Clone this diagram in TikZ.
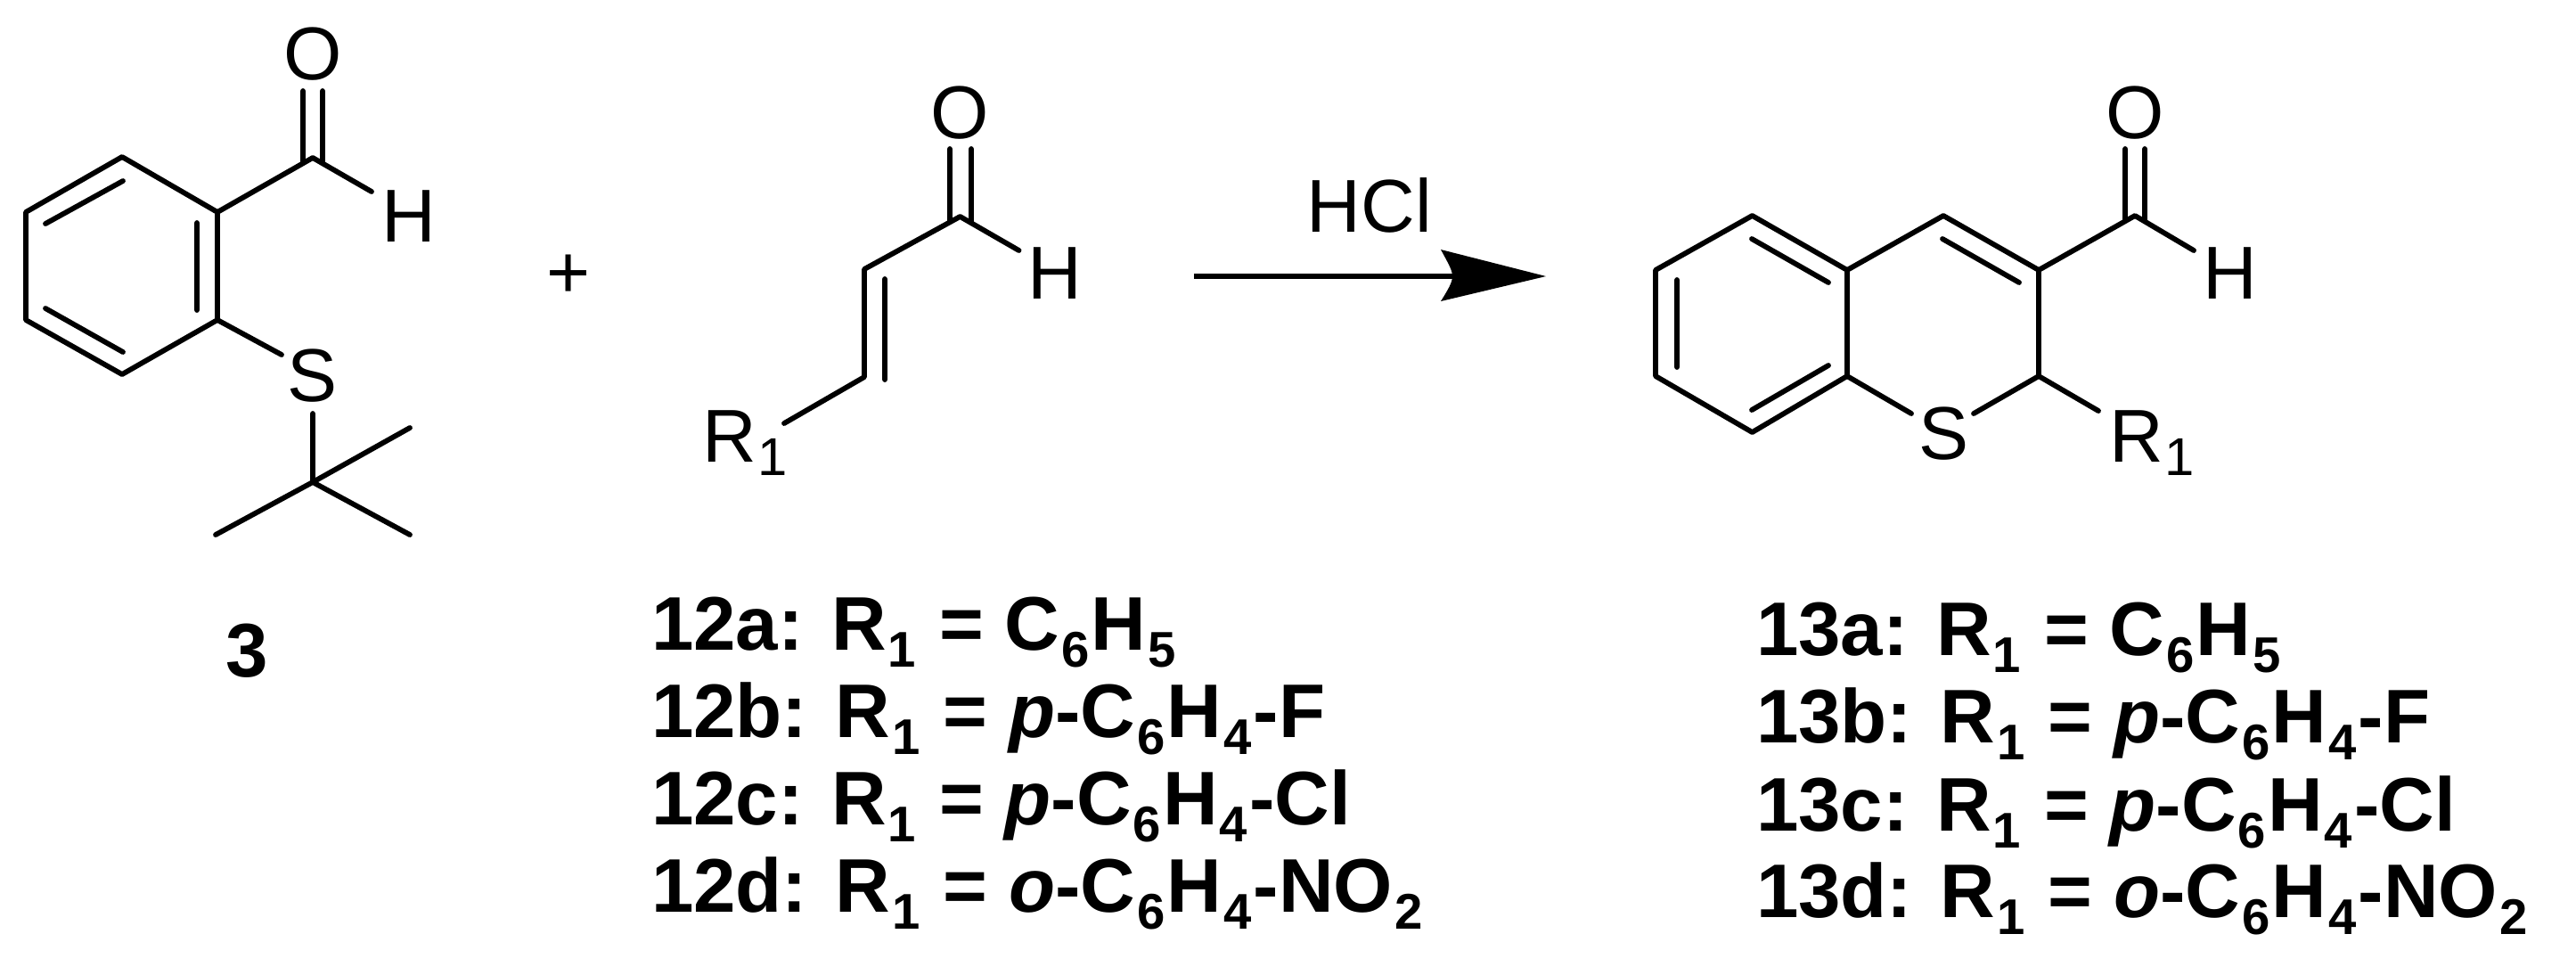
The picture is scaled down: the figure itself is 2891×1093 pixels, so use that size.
\documentclass[tikz,border=0pt]{standalone}
\usepackage{fontspec}
\setmainfont{Liberation Sans}
\newcommand\atomfont{\fontsize{23.9pt}{26pt}\selectfont}
\newcommand\labfont{\fontsize{24.25pt}{26pt}\selectfont\bfseries}
\newcommand\subfont{\fontsize{16pt}{18pt}\selectfont}
\newcommand\sbs[1]{\hspace{0.6pt}\raisebox{-5.4pt}{\subfont #1}\hspace{0.6pt}}
\newcommand\asb[1]{\hspace{0.6pt}\raisebox{-4.3pt}{\fontsize{17pt}{19pt}\selectfont #1}}
\tikzset{
  x=0.01cm,y=-0.01cm,
  bond/.style={line width=1.65pt,line cap=round,line join=round,black},
  atom/.style={inner sep=0pt,outer sep=0pt,font=\atomfont,text=black},
  lab/.style={inner sep=0pt,outer sep=0pt,anchor=base west,font=\labfont,text=black},
}
\begin{document}
\begin{tikzpicture}
\useasboundingbox (0,0) rectangle (2891,1093);
% ---------- compound 3
\foreach \n/\p in {a1/{137,176},a2/{244,238},a3/{244,359},a4/{137,420},a5/{29,359},a6/{29,238},
  a7/{351,177},a8/{340,102},a9/{340,182},a10/{362,102},a11/{362,182},a12/{417,215},
  a13/{316,398},a14/{351,464},a15/{351,541},a16/{460,480},a17/{460,600},a18/{242,600},
  a19/{221,250},a20/{221,348},a21/{138,203},a22/{51,251},a23/{51,346},a24/{138,395}}
  \coordinate (\n) at (\p);
\draw[bond] (a1)--(a2)--(a3)--(a4)--(a5)--(a6)--cycle;
\draw[bond] (a19)--(a20) (a21)--(a22) (a23)--(a24);
\draw[bond] (a2)--(a7)--(a12) (a8)--(a9) (a10)--(a11);
\draw[bond] (a3)--(a13) (a14)--(a15) (a15)--(a16) (a15)--(a17) (a15)--(a18);
\node[atom] (o3) at (351,61) {O};
\node[atom] (h3) at (459,243) {H};
\node[atom] (s3) at (351,422) {S};
% plus sign
\node[atom] (plus) at (638,310) {+};
% ---------- compound 12
\foreach \n/\p in {b1/{1077.5,243},b2/{970,302},b3/{970,423},b4/{880,475},b5/{1143.5,281},
  b6/{993,313},b7/{993,426},b8/{1066,167},b9/{1066,248},b10/{1090,167},b11/{1090,248}}
  \coordinate (\n) at (\p);
\draw[bond] (b4)--(b3)--(b2)--(b1)--(b5) (b6)--(b7) (b8)--(b9) (b10)--(b11);
\node[atom] (o12) at (1077.5,127) {O};
\node[atom] (h12) at (1184,307) {H};
\node[atom,anchor=base west] (r12) at (788,518) {R\asb{1}};
% ---------- arrow
\coordinate (ar1) at (1340,310);
\coordinate (ar2) at (1735,310);
\coordinate (ar3) at (1617,280);
\coordinate (ar4) at (1630,310);
\coordinate (ar5) at (1617,338);
\draw[line width=1.6pt,black] (ar1)--(ar4);
\fill[black] (ar2)--(ar3) .. controls (1625,295) and (1630,303) .. (ar4) .. controls (1630,317) and (1625,325) .. (ar5)--cycle;
\node[atom] (hcl) at (1537,230) {HCl};
% ---------- compound 13
\foreach \n/\p in {c1/{1966.5,242},c2/{2073,303},c3/{2073,422},c4/{1966.5,485},c5/{1858,422},c6/{1858,303},
  c7/{2181,242},c8/{2288,303},c9/{2288,422},c10/{2145,464},c11/{2215,464},c12/{2355,461},
  c13/{2396,242},c14/{2462,281},c15/{2385,167},c16/{2385,248},c17/{2407,167},c18/{2407,248},
  c19/{1882,314},c20/{1882,412},c21/{1966,268},c22/{2052,317},c23/{1966,460},c24/{2052,410},
  c25/{2180,268},c26/{2266,317}}
  \coordinate (\n) at (\p);
\draw[bond] (c1)--(c2)--(c3)--(c4)--(c5)--(c6)--cycle;
\draw[bond] (c2)--(c7)--(c8)--(c9)--(c11) (c3)--(c10) (c9)--(c12);
\draw[bond] (c8)--(c13)--(c14) (c15)--(c16) (c17)--(c18);
\draw[bond] (c19)--(c20) (c21)--(c22) (c23)--(c24) (c25)--(c26);
\node[atom] (o13) at (2396,127) {O};
\node[atom] (h13) at (2503,307) {H};
\node[atom] (s13) at (2181,487) {S};
\node[atom,anchor=base west] (r13) at (2367,518) {R\asb{1}};
% ---------- labels
\node[lab,anchor=base] (l3) at (277,759) {3};
\node[lab] (l12a) at (731,729) {12a: R\sbs{1} = C\sbs{6}H\sbs{5}};
\node[lab] (l12b) at (731,827) {12b: R\sbs{1} = {\itshape p}-C\sbs{6}H\sbs{4}-F};
\node[lab] (l12c) at (731,925) {12c: R\sbs{1} = {\itshape p}-C\sbs{6}H\sbs{4}-Cl};
\node[lab] (l12d) at (731,1023) {12d: R\sbs{1} = {\itshape o}-C\sbs{6}H\sbs{4}-NO\sbs{2}};
\node[lab] (l13a) at (1971,735) {13a: R\sbs{1} = C\sbs{6}H\sbs{5}};
\node[lab] (l13b) at (1971,833) {13b: R\sbs{1} = {\itshape p}-C\sbs{6}H\sbs{4}-F};
\node[lab] (l13c) at (1971,932) {13c: R\sbs{1} = {\itshape p}-C\sbs{6}H\sbs{4}-Cl};
\node[lab] (l13d) at (1971,1029) {13d: R\sbs{1} = {\itshape o}-C\sbs{6}H\sbs{4}-NO\sbs{2}};
\end{tikzpicture}
\end{document}
